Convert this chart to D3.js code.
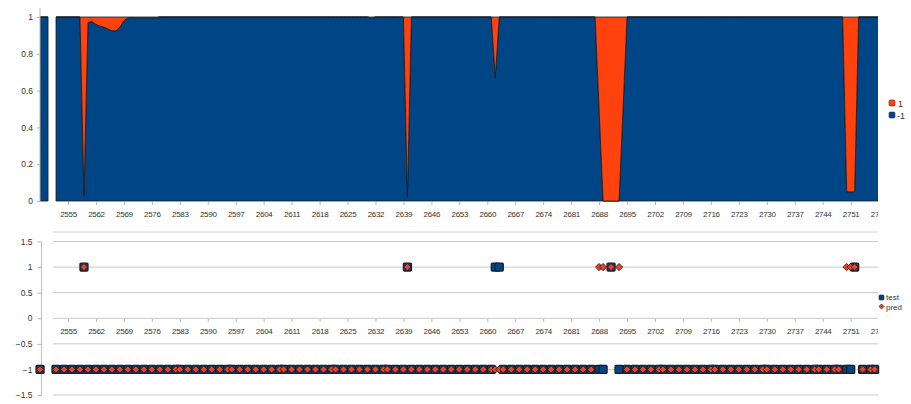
<!DOCTYPE html>
<html>
<head>
<meta charset="utf-8">
<script src="https://cdn.jsdelivr.net/npm/d3@7"></script>
<style>
  html, body { margin: 0; padding: 0; background: #fff; }
  svg { display: block; }
  text { font-family: "Liberation Sans", Arial, sans-serif; fill: #333; }
</style>
</head>
<body>
<svg id="chart" width="911" height="404"></svg>
<script>
// ---- data ---------------------------------------------------------------
// categories of the upper (share) panel, one per step
const topStart = 2548;
const topEnd = 2758;

// share of class "-1" per category (null = missing)
const shareNeg = [
  1, 1, 1, null, 1, 1, 1, 1, 1, 1,                         // 2548
  1, 0.03, 0.97, 0.975, 0.96, 0.95, 0.945, 0.935, 0.925, 0.925, // 2558
  0.945, 0.98, 0.995, 0.997, 0.996, 0.996, 0.996, 0.996, 0.996, 0.996, // 2568
  1, 1, 1, 1, 1, 1, 1, 1, 1, 1,                            // 2578
  1, 1, 1, 1, 1, 1, 1, 1, 1, 1,                            // 2588
  1, 1, 1, 1, 1, 1, 1, 1, 1, 1,                            // 2598
  1, 1, 1, 1, 1, 1, 1, 1, 1, 1,                            // 2608
  1, 1, 1, 1, 1, 1, 1, 1, 1, 1,                            // 2618
  1, 1, 1, 0.993, 1, 1, 1, 1, 1, 1,                        // 2628
  1, 1, 0.02, 1, 1, 1, 1, 1, 1, 1,                         // 2638
  1, 1, 1, 1, 1, 1, 1, 1, 1, 1,                            // 2648
  1, 1, 1, 1, 0.67, 1, 1, 1, 1, 1,                         // 2658
  1, 1, 1, 1, 1, 1, 1, 1, 1, 1,                            // 2668
  1, 1, 1, 1, 1, 1, 1, 1, 1, 1,                            // 2678
  0.5, 0, 0, 0, 0, 0, 0.5, 1, 1, 1,                        // 2688
  1, 1, 1, 1, 1, 1, 1, 1, 1, 1,                            // 2698
  1, 1, 1, 1, 1, 1, 1, 1, 1, 1,                            // 2708
  1, 1, 1, 1, 1, 1, 1, 1, 1, 1,                            // 2718
  1, 1, 1, 1, 1, 1, 1, 1, 1, 1,                            // 2728
  1, 1, 1, 1, 1, 1, 1, 1, 1, 1,                            // 2738
  1, 1, 0.05, 0.05, 0.05, 1, 1, 1, 1, 1,                   // 2748
  1                                                        // 2758
];

// share of class "1" per category (null = missing)
const sharePos = [
  0, 0, 0, null, 0, 0, 0, 0, 0, 0,                         // 2548
  0, 0.97, 0.03, 0.025, 0.04, 0.05, 0.055, 0.065, 0.075, 0.075, // 2558
  0.055, 0.02, 0.005, 0.003, 0.004, 0.004, 0.004, 0.004, 0.004, 0.004, // 2568
  0, 0, 0, 0, 0, 0, 0, 0, 0, 0,                            // 2578
  0, 0, 0, 0, 0, 0, 0, 0, 0, 0,                            // 2588
  0, 0, 0, 0, 0, 0, 0, 0, 0, 0,                            // 2598
  0, 0, 0, 0, 0, 0, 0, 0, 0, 0,                            // 2608
  0, 0, 0, 0, 0, 0, 0, 0, 0, 0,                            // 2618
  0, 0, 0, 0.007, 0, 0, 0, 0, 0, 0,                        // 2628
  0, 0, 0.98, 0, 0, 0, 0, 0, 0, 0,                         // 2638
  0, 0, 0, 0, 0, 0, 0, 0, 0, 0,                            // 2648
  0, 0, 0, 0, 0.33, 0, 0, 0, 0, 0,                         // 2658
  0, 0, 0, 0, 0, 0, 0, 0, 0, 0,                            // 2668
  0, 0, 0, 0, 0, 0, 0, 0, 0, 0,                            // 2678
  0.5, 1, 1, 1, 1, 1, 0.5, 0, 0, 0,                        // 2688
  0, 0, 0, 0, 0, 0, 0, 0, 0, 0,                            // 2698
  0, 0, 0, 0, 0, 0, 0, 0, 0, 0,                            // 2708
  0, 0, 0, 0, 0, 0, 0, 0, 0, 0,                            // 2718
  0, 0, 0, 0, 0, 0, 0, 0, 0, 0,                            // 2728
  0, 0, 0, 0, 0, 0, 0, 0, 0, 0,                            // 2738
  0, 0, 0.95, 0.95, 0.95, 0, 0, 0, 0, 0,                   // 2748
  0                                                        // 2758
];

// lower panel: sampled categories with actual (test) and predicted (pred) class
const sampleCats = [
  2548, 2552, 2554, 2556, 2558, 2559, 2560, 2562, 2564, 2566,
  2568, 2570, 2572, 2574, 2576, 2578, 2580, 2582, 2583, 2585,
  2587, 2589, 2591, 2593, 2595, 2596, 2598, 2600, 2602, 2604,
  2606, 2608, 2609, 2611, 2613, 2615, 2617, 2619, 2621, 2622,
  2624, 2626, 2628, 2630, 2632, 2634, 2635, 2637, 2639, 2640,
  2641, 2643, 2645, 2647, 2649, 2651, 2653, 2655, 2657, 2659,
  2661, 2662, 2663, 2664, 2666, 2668, 2670, 2672, 2674, 2676,
  2678, 2680, 2682, 2684, 2686, 2688, 2689, 2691, 2693, 2695,
  2697, 2699, 2701, 2703, 2704, 2706, 2708, 2710, 2712, 2714,
  2716, 2717, 2719, 2721, 2723, 2725, 2727, 2729, 2730, 2732,
  2734, 2736, 2738, 2740, 2742, 2743, 2745, 2747, 2748, 2750,
  2751, 2752, 2754, 2756, 2757
];
const testVals = [
  -1, -1, -1, -1, -1, 1, -1, -1, -1, -1,
  -1, -1, -1, -1, -1, -1, -1, -1, -1, -1,
  -1, -1, -1, -1, -1, -1, -1, -1, -1, -1,
  -1, -1, -1, -1, -1, -1, -1, -1, -1, -1,
  -1, -1, -1, -1, -1, -1, -1, -1, -1, 1,
  -1, -1, -1, -1, -1, -1, -1, -1, -1, -1,
  -1, 1, 1, -1, -1, -1, -1, -1, -1, -1,
  -1, -1, -1, -1, -1, -1, -1, 1, -1, -1,
  -1, -1, -1, -1, -1, -1, -1, -1, -1, -1,
  -1, -1, -1, -1, -1, -1, -1, -1, -1, -1,
  -1, -1, -1, -1, -1, -1, -1, -1, -1, -1,
  -1, 1, -1, -1, -1
];
const predVals = [
  -1, -1, -1, -1, -1, 1, -1, -1, -1, -1,
  -1, -1, -1, -1, -1, -1, -1, -1, -1, -1,
  -1, -1, -1, -1, -1, -1, -1, -1, -1, -1,
  -1, -1, -1, -1, -1, -1, -1, -1, -1, -1,
  -1, -1, -1, -1, -1, -1, -1, -1, -1, 1,
  -1, -1, -1, -1, -1, -1, -1, -1, -1, -1,
  -1, -1, -1, -1, -1, -1, -1, -1, -1, -1,
  -1, -1, -1, -1, -1, 1, 1, 1, 1, -1,
  -1, -1, -1, -1, -1, -1, -1, -1, -1, -1,
  -1, -1, -1, -1, -1, -1, -1, -1, -1, -1,
  -1, -1, -1, -1, -1, -1, -1, -1, -1, 1,
  1, 1, -1, -1, -1
];

// category labels shown on both axes
const xTickLabels = [
  2555, 2562, 2569, 2576, 2583, 2590, 2597, 2604, 2611, 2618,
  2625, 2632, 2639, 2646, 2653, 2660, 2667, 2674, 2681, 2688,
  2695, 2702, 2709, 2716, 2723, 2730, 2737, 2744, 2751, 2758
];
const shareTicks = [0, 0.2, 0.4, 0.6, 0.8, 1];
const classTicks = [-1.5, -1, -0.5, 0, 0.5, 1, 1.5];

const colNeg = "#004586";
const colPos = "#ff420e";
const colPred = "#e8442a";

// ---- layout -------------------------------------------------------------
const svg = d3.select("#chart");
const plotLeft = 40, plotRight = 878;

const x = d3.scaleLinear().domain([topStart, topEnd]).range([40.05, 878.6]);
const yTop = d3.scaleLinear().domain([0, 1]).range([201, 17]);
const yBot = d3.scaleLinear().domain([-1.5, 1.5]).range([395, 241.5]);

const defs = svg.append("defs");
defs.append("clipPath").attr("id", "plotClip")
  .append("rect").attr("x", plotLeft).attr("y", 0).attr("width", plotRight - plotLeft).attr("height", 404);
defs.append("clipPath").attr("id", "labelClip")
  .append("rect").attr("x", 0).attr("y", 0).attr("width", plotRight).attr("height", 404);

// ---- upper panel: stacked class shares ---------------------------------
const cats = d3.range(topStart, topEnd + 1);
const rows = cats.map((c, i) => ({ cat: c, neg: shareNeg[i], pos: sharePos[i] }));
const stacked = d3.stack().keys(["neg", "pos"]).value((d, k) => d[k] == null ? 0 : d[k])(rows);

const area = d3.area()
  .defined(d => d.data.neg != null)
  .x(d => x(d.data.cat))
  .y0(d => yTop(d[0]))
  .y1(d => yTop(d[1]));

const sharePanel = svg.append("g").attr("clip-path", "url(#plotClip)");
sharePanel.selectAll("path.share")
  .data(stacked)
  .join("path")
  .attr("class", "share")
  .attr("d", area)
  .attr("fill", d => d.key === "neg" ? colNeg : colPos)
  .attr("stroke", "#1a1a1a")
  .attr("stroke-width", 0.8)
  .attr("stroke-linejoin", "round");

// y axis of upper panel
const yAxisTop = d3.axisLeft(yTop).tickValues(shareTicks).tickSize(3).tickPadding(4)
  .tickFormat(d3.format(""));
const gyt = svg.append("g").attr("transform", "translate(40,0)").call(yAxisTop);
gyt.select(".domain").attr("stroke", "#b3b3b3").attr("d", "M0,8V201");
gyt.selectAll(".tick line").attr("stroke", "#b3b3b3");
gyt.selectAll(".tick text").attr("font-size", 8.5).attr("fill", "#333").attr("font-family", "Liberation Sans, Arial, sans-serif");

// x axis of upper panel
const xAxisTop = d3.axisBottom(x).tickValues(xTickLabels).tickSize(3).tickPadding(6)
  .tickFormat(d3.format("d"));
const gxt = svg.append("g").attr("transform", "translate(0,202)").attr("clip-path", "url(#labelClip)").call(xAxisTop);
gxt.select(".domain").remove();
gxt.selectAll(".tick line").attr("stroke", "#b3b3b3");
gxt.selectAll(".tick text").attr("font-size", 8).attr("fill", "#333").attr("letter-spacing", -0.3)
  .attr("font-family", "Liberation Sans, Arial, sans-serif");

// legend of upper panel
const legTop = svg.append("g").attr("transform", "translate(889,100)");
[["1", colPos], ["-1", colNeg]].forEach(([lab, col], i) => {
  legTop.append("rect").attr("x", 0).attr("y", i * 12).attr("width", 6).attr("height", 6)
    .attr("rx", 1.2).attr("fill", col).attr("stroke", "#333").attr("stroke-width", 0.6);
  legTop.append("text").attr("x", lab === "1" ? 9 : 8).attr("y", i * 12 + 6.5)
    .attr("font-size", 9).text(lab);
});

// ---- lower panel: actual vs predicted class -----------------------------
svg.append("line").attr("x1", 53).attr("x2", plotRight).attr("y1", 232).attr("y2", 232)
  .attr("stroke", "#d4d4d4");

const grid = svg.append("g");
grid.selectAll("line").data(classTicks).join("line")
  .attr("x1", 53).attr("x2", plotRight)
  .attr("y1", d => yBot(d)).attr("y2", d => yBot(d))
  .attr("stroke", "#c8c8c8").attr("stroke-width", 1);

const yAxisBot = d3.axisLeft(yBot).tickValues(classTicks).tickSize(4).tickPadding(5)
  .tickFormat(d3.format(""));
const gyb = svg.append("g").attr("transform", "translate(41.5,0)").call(yAxisBot);
gyb.select(".domain").attr("stroke", "#c0c0c0").attr("d", "M0,241.5V395");
gyb.selectAll(".tick line").attr("stroke", "#b3b3b3");
gyb.selectAll(".tick text").attr("font-size", 8.5).attr("fill", "#333").attr("font-family", "Liberation Sans, Arial, sans-serif");

const xAxisBot = d3.axisBottom(x).tickValues(xTickLabels).tickSize(3).tickPadding(7)
  .tickFormat(d3.format("d"));
const gxb = svg.append("g").attr("transform", `translate(0,${yBot(0) + 0.5})`).attr("clip-path", "url(#labelClip)").call(xAxisBot);
gxb.select(".domain").remove();
gxb.selectAll(".tick line").attr("stroke", "#b3b3b3");
gxb.selectAll(".tick text").attr("font-size", 8).attr("fill", "#333").attr("letter-spacing", -0.3)
  .attr("font-family", "Liberation Sans, Arial, sans-serif");

const samples = sampleCats.map((c, i) => ({ cat: c, test: testVals[i], pred: predVals[i] }));
const marks = svg.append("g");

// actual class: squares
marks.selectAll("rect.test").data(samples).join("rect")
  .attr("class", "test")
  .attr("x", d => x(d.cat) - 4)
  .attr("y", d => yBot(d.test) - 4)
  .attr("width", 8).attr("height", 8).attr("rx", 1)
  .attr("fill", colNeg).attr("stroke", "#1c1c22").attr("stroke-width", 1.3);

// predicted class: diamonds
const diamond = "M0,-3.6L3.6,0L0,3.6L-3.6,0Z";
marks.selectAll("path.pred").data(samples).join("path")
  .attr("class", "pred")
  .attr("transform", d => `translate(${x(d.cat)},${yBot(d.pred)})`)
  .attr("d", diamond)
  .attr("fill", colPred).attr("stroke", "#3a1810").attr("stroke-width", 0.9);

// legend of lower panel
const legBot = svg.append("g").attr("transform", "translate(879,295)");
legBot.append("rect").attr("x", 0).attr("y", 0).attr("width", 5).attr("height", 5).attr("rx", 1)
  .attr("fill", colNeg).attr("stroke", "#222").attr("stroke-width", 0.6);
legBot.append("text").attr("x", 7).attr("y", 5.3).attr("font-size", 8).text("test");
legBot.append("path").attr("transform", "translate(2.5,11.5)").attr("d", "M0,-2.6L2.6,0L0,2.6L-2.6,0Z")
  .attr("fill", colPred).attr("stroke", "#3a1810").attr("stroke-width", 0.6);
legBot.append("text").attr("x", 7).attr("y", 14.5).attr("font-size", 8).text("pred");
</script>
</body>
</html>
